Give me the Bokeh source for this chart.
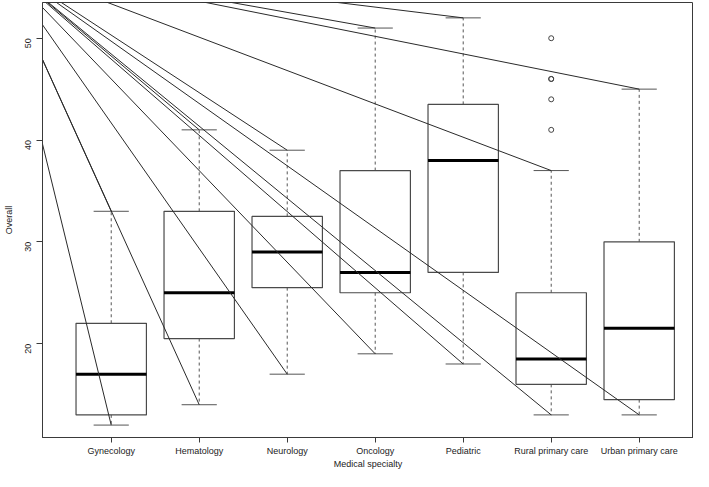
import math
from bokeh.plotting import figure
from bokeh.models import Range1d, FixedTicker, ColumnDataSource
from bokeh.embed import file_html
from bokeh.resources import INLINE

# ---- data ----
categories = ["Gynecology", "Hematology", "Neurology", "Oncology",
              "Pediatric", "Rural primary care", "Urban primary care"]
whisker_low = [12, 14, 17, 19, 18, 13, 13]
q1 = [13, 20.5, 25.5, 25, 27, 16, 14.5]
median = [17, 25, 29, 27, 38, 18.5, 21.5]
q3 = [22, 33, 32.5, 37, 43.5, 25, 30]
whisker_high = [33, 41, 39, 51, 52, 37, 45]
outlier_group = ["Rural primary care"] * 5
outlier_values = [50, 46, 46, 44, 41]
# stray lines in the figure all start from one point above-left of the plot
stray_origin_x = -0.29
stray_origin_y = 57.6
y_ticks = [20, 30, 40, 50]
x_title = "Medical specialty"
y_title = "Overall"

# ---- derived ----
pos = list(range(1, len(categories) + 1))
half_box = 0.4
half_cap = 0.2
FONT = "Liberation Sans"
INK = "#3a3a3a"

p = figure(width=693, height=471, output_backend="svg", toolbar_location=None,
           x_range=Range1d(0.219, 7.617), y_range=Range1d(10.78, 53.51),
           min_border_left=42, min_border_right=0, min_border_top=2,
           min_border_bottom=34, background_fill_color="white",
           border_fill_color="white")
p.grid.visible = False
p.outline_line_color = INK
p.outline_line_width = 1

box_src = ColumnDataSource(dict(
    x=pos,
    left=[x - half_box for x in pos], right=[x + half_box for x in pos],
    capl=[x - half_cap for x in pos], capr=[x + half_cap for x in pos],
    wl=whisker_low, q1=q1, med=median, q3=q3, wh=whisker_high))

# whiskers (dashed)
p.segment(x0="x", y0="q3", x1="x", y1="wh", source=box_src,
          line_color="#555555", line_width=1, line_dash="3 3")
p.segment(x0="x", y0="q1", x1="x", y1="wl", source=box_src,
          line_color="#555555", line_width=1, line_dash="3 3")
# caps
p.segment(x0="capl", y0="wh", x1="capr", y1="wh", source=box_src,
          line_color="#555555", line_width=1)
p.segment(x0="capl", y0="wl", x1="capr", y1="wl", source=box_src,
          line_color="#555555", line_width=1)
# boxes
p.quad(left="left", right="right", bottom="q1", top="q3", source=box_src,
       fill_alpha=0, line_color="#4a4a4a", line_width=1.2)
# medians
p.segment(x0="left", y0="med", x1="right", y1="med", source=box_src,
          line_color="black", line_width=3)

# outliers
ox = [pos[categories.index(g)] for g in outlier_group]
p.scatter(x=ox, y=outlier_values, marker="circle", size=5,
          fill_alpha=0, line_color="#444444", line_width=1)

# stray lines from the common origin to every whisker end
ends_x = pos + pos
ends_y = whisker_low + whisker_high
p.segment(x0=[stray_origin_x] * len(ends_x), y0=[stray_origin_y] * len(ends_x),
          x1=ends_x, y1=ends_y, line_color="#2a2a2a", line_width=1)

# axes
for ax in (p.xaxis[0], p.yaxis[0]):
    ax.major_tick_in = 0
    ax.minor_tick_line_color = None
    ax.axis_line_color = INK
    ax.major_tick_line_color = INK
    ax.major_label_text_font = FONT
    ax.major_label_text_font_size = "9px"
    ax.major_label_text_color = "#222222"
    ax.axis_label_text_font = FONT
    ax.axis_label_text_font_size = "9px"
    ax.axis_label_text_font_style = "normal"
    ax.axis_label_text_color = "#222222"

p.xaxis.ticker = FixedTicker(ticks=pos)
p.xaxis.major_label_overrides = {x: c for x, c in zip(pos, categories)}
p.xaxis.major_tick_out = 5
p.xaxis.major_label_standoff = 3
p.xaxis.axis_label = x_title
p.xaxis.axis_label_standoff = 0

p.yaxis.ticker = FixedTicker(ticks=y_ticks)
p.yaxis.major_tick_out = 6
p.yaxis.major_label_orientation = math.pi / 2
p.yaxis.major_label_standoff = 8
p.yaxis.axis_label = y_title
p.yaxis.axis_label_standoff = 6

open("out.html", "w").write(file_html(p, INLINE))
